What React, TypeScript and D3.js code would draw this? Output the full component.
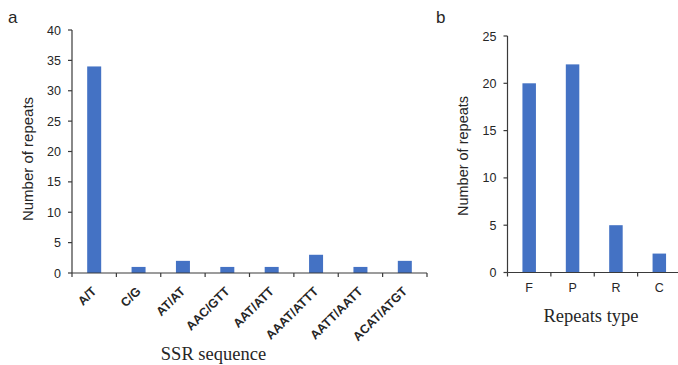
import React from "react";
import * as d3 from "d3";

const ssrCategories = ["A/T", "C/G", "AT/AT", "AAC/GTT", "AAT/ATT", "AAAT/ATTT", "AATT/AATT", "ACAT/ATGT"];
const ssrValues = [34, 1, 2, 1, 1, 3, 1, 2];
const ssrTicks = [0, 5, 10, 15, 20, 25, 30, 35, 40];

const typeCategories = ["F", "P", "R", "C"];
const typeValues = [20, 22, 5, 2];
const typeTicks = [0, 5, 10, 15, 20, 25];

const BAR = "#4472C4";
const AXIS = "#3a3a3a";
const TEXT = "#262626";
const SANS = "'Liberation Sans', Arial, sans-serif";
const SERIF = "'Liberation Serif', 'Times New Roman', serif";

export default function App() {
  // Panel a
  const ax0 = 72, ax1 = 427, ay0 = 273, ay1 = 30;
  const xA = d3.scaleBand<string>().domain(ssrCategories).range([ax0, ax1]).paddingInner(0).paddingOuter(0);
  const yA = d3.scaleLinear().domain([0, 40]).range([ay0, ay1]);
  const barWA = 14;

  // Panel b
  const bx0 = 507.5, bx1 = 681, by0 = 272.5, by1 = 36;
  const xB = d3.scaleBand<string>().domain(typeCategories).range([bx0, bx1]);
  const yB = d3.scaleLinear().domain([0, 25]).range([by0, by1]);
  const barWB = 13.5;

  return (
    <svg width={678} height={365} style={{ position: "absolute", left: 0, top: 0, background: "#fff" }}>
      <rect width={678} height={365} fill="#fff" />
      {/* Panel a */}
      <text x={8} y={23} fontFamily={SANS} fontSize={17} fill={TEXT}>a</text>
      {ssrCategories.map((c, i) => (
        <rect key={c} x={xA(c)! + xA.bandwidth() / 2 - barWA / 2} y={yA(ssrValues[i])}
          width={barWA} height={ay0 - yA(ssrValues[i])} fill={BAR} />
      ))}
      <line x1={ax0} x2={ax0} y1={ay1} y2={ay0} stroke={AXIS} strokeWidth={1.2} />
      <line x1={ax0} x2={ax1} y1={ay0} y2={ay0} stroke={AXIS} strokeWidth={1.2} />
      {ssrTicks.map(t => (
        <g key={t}>
          <line x1={ax0 - 4} x2={ax0} y1={yA(t)} y2={yA(t)} stroke={AXIS} strokeWidth={1.2} />
          <text x={ax0 - 11} y={yA(t)} dy="0.36em" textAnchor="end" fontFamily={SANS} fontSize={12.5} fill={TEXT}>{t}</text>
        </g>
      ))}
      {ssrCategories.map(c => (
        <line key={c} x1={xA(c)! + xA.bandwidth()} x2={xA(c)! + xA.bandwidth()} y1={ay0} y2={ay0 + 4} stroke={AXIS} strokeWidth={1.2} />
      ))}
      <line x1={ax0} x2={ax0} y1={ay0} y2={ay0 + 4} stroke={AXIS} strokeWidth={1.2} />
      {ssrCategories.map(c => {
        const cx = xA(c)! + xA.bandwidth() / 2 + 3;
        return (
          <text key={c} transform={`translate(${cx},${ay0 + 19}) rotate(-45)`} textAnchor="end"
            fontFamily={SANS} fontSize={12.5} fontWeight="bold" fill={TEXT}>{c}</text>
        );
      })}
      <text transform={`translate(33,159) rotate(-90)`} textAnchor="middle"
        fontFamily={SANS} fontSize={15} fill={TEXT}>Number of repeats</text>
      <text x={213.5} y={360} textAnchor="middle" fontFamily={SERIF} fontSize={18.5} fill={TEXT}>SSR sequence</text>

      {/* Panel b */}
      <text x={436} y={23} fontFamily={SANS} fontSize={17} fill={TEXT}>b</text>
      {typeCategories.map((c, i) => (
        <rect key={c} x={xB(c)! + xB.bandwidth() / 2 - barWB / 2} y={yB(typeValues[i])}
          width={barWB} height={by0 - yB(typeValues[i])} fill={BAR} />
      ))}
      <line x1={bx0} x2={bx0} y1={by1} y2={by0} stroke={AXIS} strokeWidth={1.2} />
      <line x1={bx0} x2={bx1} y1={by0} y2={by0} stroke={AXIS} strokeWidth={1.2} />
      {typeTicks.map(t => (
        <g key={t}>
          <line x1={bx0 - 4} x2={bx0} y1={yB(t)} y2={yB(t)} stroke={AXIS} strokeWidth={1.2} />
          <text x={bx0 - 11} y={yB(t)} dy="0.36em" textAnchor="end" fontFamily={SANS} fontSize={12.5} fill={TEXT}>{t}</text>
        </g>
      ))}
      {typeCategories.map(c => (
        <line key={c} x1={xB(c)! + xB.bandwidth()} x2={xB(c)! + xB.bandwidth()} y1={by0} y2={by0 + 4} stroke={AXIS} strokeWidth={1.2} />
      ))}
      <line x1={bx0} x2={bx0} y1={by0} y2={by0 + 4} stroke={AXIS} strokeWidth={1.2} />
      {typeCategories.map(c => (
        <text key={c} x={xB(c)! + xB.bandwidth() / 2} y={292} textAnchor="middle"
          fontFamily={SANS} fontSize={12.5} fill={TEXT}>{c}</text>
      ))}
      <text transform={`translate(468,156) rotate(-90)`} textAnchor="middle"
        fontFamily={SANS} fontSize={14.5} fill={TEXT}>Number of repeats</text>
      <text x={591} y={322} textAnchor="middle" fontFamily={SERIF} fontSize={18.5} fill={TEXT}>Repeats type</text>
    </svg>
  );
}
